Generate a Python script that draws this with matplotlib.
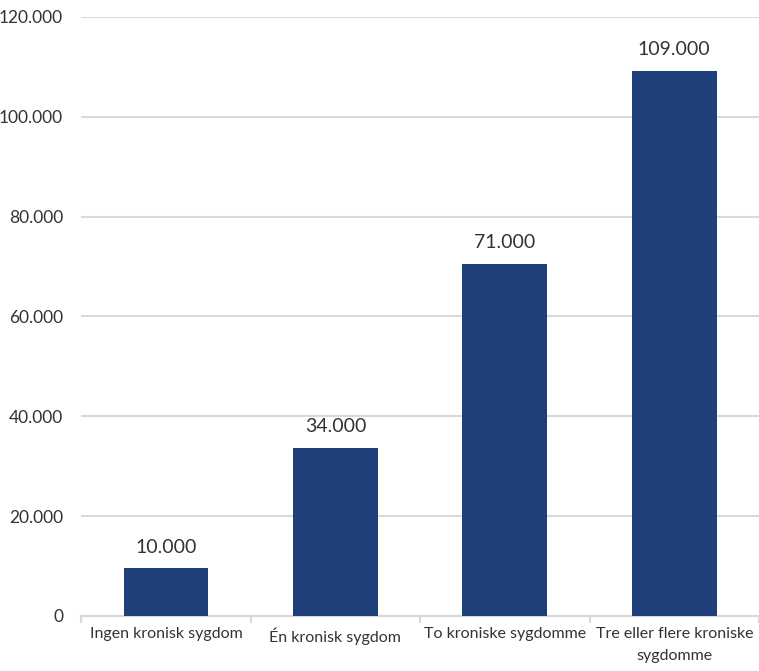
import numpy as np
import matplotlib as mpl
mpl.use("Agg")
import matplotlib.pyplot as plt
import matplotlib.ticker as plticker

categories = ["Ingen kronisk sygdom", "Én kronisk sygdom", "To kroniske sygdomme",
              "Tre eller flere kroniske\nsygdomme"]
values = [9600, 33700, 70600, 109200]
value_labels = ["10.000", "34.000", "71.000", "109.000"]
yticks = [0, 20000, 40000, 60000, 80000, 100000, 120000]
ytick_labels = ["0", "20.000", "40.000", "60.000", "80.000", "100.000", "120.000"]

mpl.rcParams['font.family'] = ['Lato', 'DejaVu Sans']

fig = plt.figure(figsize=(7.59, 6.71), dpi=100)
ax = fig.add_axes([0.107, 0.082, 0.893, 0.8927])

x = np.arange(len(categories))
bars = ax.bar(x, values, width=0.5, color='#1f3f7a', zorder=3)

for b, lab in zip(bars, value_labels):
  ax.annotate(lab, (b.get_x() + b.get_width()/2, b.get_height()), xytext=(0, 9),
              textcoords='offset points', ha='center', va='bottom',
              fontsize=14, color='#333333')

ax.set_xlim(-0.5, len(categories) - 0.5)
ax.set_ylim(0, 120000)
ax.set_yticks(yticks)
ax.set_yticklabels(ytick_labels, fontsize=12.5, color='#333333')
ax.yaxis.grid(True, color='#d9d9d9', linewidth=1.5, zorder=0)
ax.tick_params(axis='y', length=0, pad=13)

ax.set_xticks(x)
ax.set_xticklabels(categories, fontsize=11.5, color='#333333', linespacing=1.75)
ax.tick_params(axis='x', length=0, pad=8)
ax.xaxis.set_minor_locator(plticker.FixedLocator(np.arange(-0.5, len(categories), 1.0)))
ax.tick_params(axis='x', which='minor', length=5, color='#d9d9d9', width=1.5)

for s in ['top', 'right', 'left']:
  ax.spines[s].set_visible(False)
ax.spines['bottom'].set_color('#d9d9d9')
ax.spines['bottom'].set_linewidth(1.5)
ax.set_axisbelow(True)

fig.savefig('out.png', dpi=100)
